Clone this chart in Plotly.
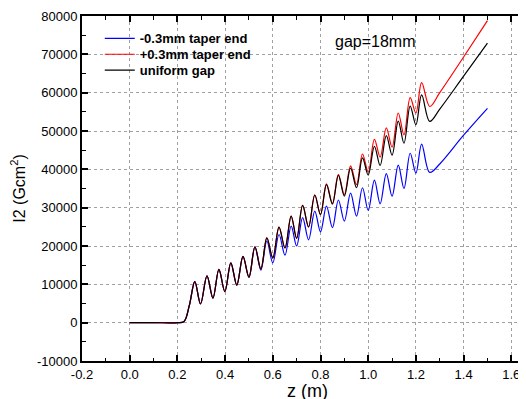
import plotly.graph_objects as go

# ---- data (z in m, I2 in G cm^2) ----
z_common = [0.0, 0.10, 0.20, 0.228, 0.250, 0.273, 0.297, 0.324, 0.349, 0.374,
            0.399, 0.424, 0.449, 0.475]
i2_common = [0, 0, 0, 300, 4500, 10700, 4900, 12200, 6400, 13900,
             8100, 15600, 9800, 17300]

z_tail = [0.500, 0.525, 0.550, 0.575, 0.600, 0.626, 0.651, 0.677, 0.700, 0.725,
          0.750, 0.776, 0.800, 0.825, 0.850, 0.875, 0.900, 0.926, 0.951, 0.976,
          1.000, 1.026, 1.050, 1.076, 1.100, 1.126, 1.150, 1.176, 1.200, 1.224,
          1.258, 1.300, 1.400, 1.500]

i2_uniform_tail = [11900, 19800, 14000, 22100, 16900, 24900, 19500, 27800, 22000, 30600,
                   25000, 33300, 28200, 36000, 30900, 38400, 33000, 40300, 35200, 43000,
                   38500, 46000, 41000, 48800, 43700, 52600, 46800, 56500, 51600, 59400,
                   52500, 55700, 64300, 72900]

i2_plus_tail = [11900, 19800, 14000, 22100, 16900, 24900, 19500, 27800, 22000, 30600,
                25000, 33300, 28200, 36200, 31100, 38700, 33400, 40900, 36000, 44000,
                39300, 47800, 43200, 50800, 45800, 54700, 49000, 58700, 54700, 62600,
                56400, 60000, 69300, 78800]

i2_minus_tail = [11800, 19700, 13700, 21300, 15600, 23000, 17600, 25200, 20000, 27400,
                 21600, 29100, 23700, 30400, 24800, 32000, 26500, 33800, 27800, 35200,
                 29300, 37200, 31000, 38900, 33000, 41100, 35000, 44200, 39000, 46600,
                 39200, 41400, 48900, 55900]

z_all = z_common + z_tail
series_names = ["-0.3mm taper end", "+0.3mm taper end", "uniform gap"]
series_values = [i2_common + i2_minus_tail,
                 i2_common + i2_plus_tail,
                 i2_common + i2_uniform_tail]
series_colors = ["#0000ff", "#ff0000", "#000000"]

x_tickvals = [-0.2, 0.0, 0.2, 0.4, 0.6, 0.8, 1.0, 1.2, 1.4, 1.6]
x_ticktext = ["-0.2", "0.0", "0.2", "0.4", "0.6", "0.8", "1.0", "1.2", "1.4", "1.6"]
y_tickvals = [-10000, 0, 10000, 20000, 30000, 40000, 50000, 60000, 70000, 80000]
y_ticktext = ["-10000", "0", "10000", "20000", "30000", "40000", "50000", "60000", "70000", "80000"]

FONT = "Liberation Sans, Arial, sans-serif"
legend_ids = ["legend", "legend2", "legend3"]
legend_ypos = [0.935, 0.889, 0.843]

fig = go.Figure()
for name, vals, col, lg in zip(series_names, series_values, series_colors, legend_ids):
    fig.add_trace(go.Scatter(x=z_all, y=vals, mode="lines", name=name, legend=lg,
                             line=dict(color=col, width=1.2, shape="spline", smoothing=1.0)))

axis_common = dict(showline=True, linecolor="black", linewidth=2,
                   ticks="inside", ticklen=6, tickwidth=1.5, tickcolor="black",
                   showgrid=True, gridcolor="#a0a0a0", griddash="dot", gridwidth=1,
                   zeroline=False, tickfont=dict(family=FONT, size=13, color="black"))

fig.update_xaxes(range=[-0.2, 1.6616], tickmode="array", tickvals=x_tickvals, ticktext=x_ticktext,
                 mirror="ticks",
                 minor=dict(ticks="inside", ticklen=3.5, tickwidth=1.2, tickcolor="black",
                            tick0=-0.1, dtick=0.1, showgrid=False),
                 **axis_common)
fig.update_yaxes(range=[-10000, 80000], tickmode="array", tickvals=y_tickvals, ticktext=y_ticktext,
                 minor=dict(ticks="inside", ticklen=3.5, tickwidth=1.2, tickcolor="black",
                            tick0=-5000, dtick=5000, showgrid=False),
                 title=dict(text="I2 (Gcm<sup>2</sup>)", font=dict(family=FONT, size=16, color="black"),
                            standoff=12),
                 **axis_common)

# x-axis title (placed just below the tick labels, like the reference)
fig.add_annotation(x=0.509, y=-0.052, xref="paper", yref="paper", text="z (m)",
                   showarrow=False, xanchor="center", yanchor="top",
                   font=dict(family=FONT, size=18, color="black"))

fig.add_annotation(x=0.5653, y=0.9255, xref="paper", yref="paper", text="gap=18mm",
                   showarrow=False, xanchor="left", yanchor="middle",
                   font=dict(family=FONT, size=16, color="black"))

legend_style = dict(x=0.04, xanchor="left", yanchor="middle",
                    bgcolor="rgba(0,0,0,0)", borderwidth=0,
                    font=dict(family=FONT, size=13, color="black", weight="bold"),
                    itemwidth=30)

fig.update_layout(width=518, height=391,
                  margin=dict(l=74, r=0, t=8, b=38),
                  plot_bgcolor="white", paper_bgcolor="white",
                  showlegend=True,
                  legend=dict(y=legend_ypos[0], **legend_style),
                  legend2=dict(y=legend_ypos[1], **legend_style),
                  legend3=dict(y=legend_ypos[2], **legend_style))

fig.write_html("out.html")
